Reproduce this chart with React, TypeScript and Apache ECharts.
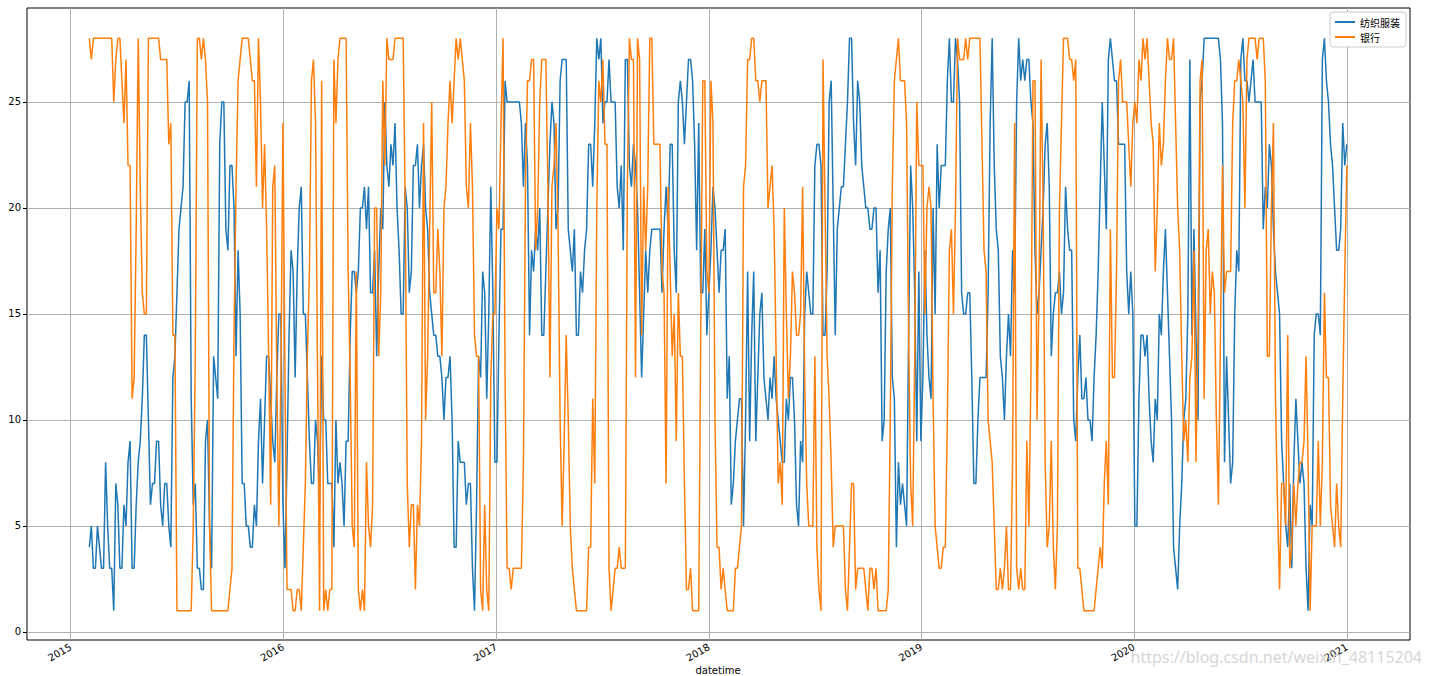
import React, { useEffect, useRef } from "react";
import * as echarts from "echarts";

// Samples: "A" arrays are Mondays (weekly from startDate), "B" arrays are the following Thursdays
const startDate = [2015, 1, 2];
const stepDays = 7;
const midOffsetDays = 3.5;
const yearTicks = [2015, 2016, 2017, 2018, 2019, 2020, 2021];
const yTicks = [0, 5, 10, 15, 20, 25];
const seriesNames = ["纺织服装", "银行"];
const xAxisTitle = "datetime";

// 纺织服装 (blue)
const textileA2015 = [4,3,5,3,8,3,1,6,3,5,9,3,8,11,14,6,7,9,5,7,4,13,19,21,25,11,7,3,2,10,3,12,23,
  25,18,22,13,15,7,5,4,5,11,10,13,9,12,15];
const textileB2015 = [5,3,4,3,5,3,7,3,6,8,3,6,9,14,10,7,9,6,7,5,12,16,20,25,26,6,3,2,9,5,13,11,
  25,19,22,20,18,7,5,4,6,9,7,13,11,8,15,6];
const textileA2016 = [3,14,17,17,21,15,9,7,9,13,10,7,4,7,7,9,14,17,
  17,20,19,16,18,17,19,22,23,24,18,15,20,17,22,20,23,19,15,14,13,10,12,10,4,8,8,7,3,6,12,16,15,16];
const textileB2016 = [8,18,12,20,15,12,7,10,6,10,7,7,10,8,5,9,17,
  16,20,21,21,16,13,20,25,21,22,20,15,21,16,22,23,22,20,16,14,13,12,12,13,4,9,8,6,7,1,13,17,11,21,8];
const textileA2017 = [8,19,26,25,25,25,24,24,14,17,18,14,17,23,24,20,27,27,18,19,14,16,
  19,23,24,27,24,25,25,25,20,18,27,21,22,16,15,16,19,19,19,19,19,23,16,26,
  23,27,26,18,16,19];
const textileB2017 = [14,19,25,25,25,25,21,22,18,19,20,14,20,25,19,26,27,19,17,14,17,18,
  23,21,28,28,25,27,25,21,22,27,22,23,20,12,18,18,19,19,16,21,23,18,25,
  25,25,27,23,24,16,14];
const textileA2018 = [16,21,18,18,19,13,7,10,11,10,9,17,12,16,11,12,13,
  10,8,11,12,10,5,8,17,15,22,23,14,17,26,14,20,21,25,28,22,25,21,20,
  19,20,18,10,19,12,4,6,6,14,20,9,9];
const textileB2018 = [18,20,16,18,11,6,9,11,5,17,14,9,15,12,10,11,
  11,9,8,10,12,6,9,15,16,15,23,22,14,25,20,19,21,23,28,24,26,22,20,
  19,20,16,9,17,20,11,8,7,5,22,16,17,12];
const textileA2019 = [18,12,20,23,22,22,28,25,27,16,15,
  16,7,10,12,12,24,22,18,12,13,13,16,28,27,27,25,18,16,20,24,13,16,17,
  16,19,18,9,14,11,10,9,14,21,22,27,27,26,23,23,15,15];
const textileB2019 = [14,11,15,20,22,26,25,28,25,15,
  16,12,7,12,12,16,28,19,13,10,15,18,25,26,26,27,24,15,18,23,21,15,16,15,
  21,18,10,12,11,12,10,12,17,25,19,28,26,23,23,17,17,5];
const textileA2020 = [5,14,13,11,8,10,
  14,19,13,4,2,7,11,27,19,10,26,28,28,28,28,24,13,7,15,17,28,26,26,
  25,25,19,20,22,17,15,7,4,3,11,7,7,1,5,15,14,28,25,22,18,19,22];
const textileB2020 = [11,14,14,9,11,
  15,17,16,10,3,5,10,15,14,14,25,28,28,28,28,27,8,10,8,18,27,26,25,
  27,25,25,21,23,19,16,9,5,7,8,9,8,3,6,14,15,27,26,23,20,18,24,23];

// 银行 (orange)
const bankA2015 = [28,28,28,28,28,28,25,28,26,27,22,12,28,16,15,28,28,28,27,27,24,14,1,1,1,1,13,28,28,25,1,1,1,
  1,1,3,21,27,28,28,26,21,25,23,13,21,12,12];
const bankB2015 = [27,28,28,28,28,28,27,28,24,22,11,19,21,15,28,28,28,27,27,23,14,1,1,1,1,5,28,27,27,5,1,1,
  1,1,2,14,26,28,28,27,26,28,20,19,6,22,5,24];
const bankA2016 = [12,2,1,2,1,7,17,27,12,26,2,2,27,27,28,28,12,4,
  2,2,8,4,20,13,26,28,27,28,28,28,7,6,2,5,24,13,25,16,17,20,24,24,28,28,26,20,21,13,2,6,1,15];
const bankB2016 = [2,2,1,2,4,13,26,24,1,1,1,2,24,28,28,17,5,
  17,1,1,5,6,20,16,22,27,27,28,28,20,4,6,6,9,10,19,16,19,13,21,26,26,27,27,21,24,14,13,1,2,12,15];
const bankA2017 = [20,24,12,3,3,3,3,21,26,27,20,27,27,12,22,19,5,14,5,2,1,1,
  1,4,7,26,27,23,1,3,4,3,21,27,12,27,21,21,28,23,23,16,21,13,9,13,
  7,2,1,1,14,26];
const bankB2017 = [19,28,3,2,3,3,8,26,27,18,25,27,21,21,24,10,9,10,3,1,1,
  1,4,11,20,25,23,3,2,3,3,3,28,27,28,14,18,28,23,23,17,7,17,15,16,
  13,2,3,1,1,26,17];
const bankA2018 = [16,24,4,2,2,1,1,3,5,22,27,28,26,26,26,21,19,
  7,6,15,13,16,14,21,7,5,13,2,27,13,8,5,5,5,1,7,2,3,3,1,
  3,3,1,1,2,21,27,26,26,14,5,25,22];
const bankB2018 = [26,10,4,3,1,1,3,4,21,27,28,26,25,26,20,22,
  13,8,20,11,17,14,15,12,5,5,4,1,20,11,4,5,5,2,4,7,3,3,2,
  3,2,1,1,1,10,26,28,26,24,7,13,22,22];
const bankA2019 = [15,21,11,4,3,4,18,15,28,27,28,
  28,28,28,23,17,9,5,2,2,5,2,24,2,2,9,12,26,16,20,4,9,2,20,
  28,28,27,27,3,1,1,1,2,4,7,6,12,17,27,25,23,24];
const bankB2019 = [20,20,5,3,4,10,19,20,27,27,
  27,28,28,28,18,10,8,2,3,3,2,8,3,3,2,5,26,10,27,8,5,4,5,24,
  28,27,26,3,2,1,1,1,3,3,9,19,12,26,25,25,21,25];
const bankA2020 = [24,26,27,26,23,20,
  22,26,27,28,20,13,10,12,18,14,27,18,15,16,6,22,17,17,26,27,25,27,28,
  28,28,28,13,20,11,2,7,14,4,5,8,9,8,5,5,5,16,12,5,7,4,17];
const bankB2020 = [27,28,28,24,17,
  24,23,28,27,24,18,9,8,13,8,26,11,19,17,10,14,16,17,24,26,26,20,28,
  28,27,28,26,13,24,6,7,5,3,7,7,8,13,1,5,9,8,12,6,4,5,11,22];

const textileA = [...textileA2015, ...textileA2016, ...textileA2017, ...textileA2018, ...textileA2019, ...textileA2020];
const textileB = [...textileB2015, ...textileB2016, ...textileB2017, ...textileB2018, ...textileB2019, ...textileB2020];
const bankA = [...bankA2015, ...bankA2016, ...bankA2017, ...bankA2018, ...bankA2019, ...bankA2020];
const bankB = [...bankB2015, ...bankB2016, ...bankB2017, ...bankB2018, ...bankB2019, ...bankB2020];

export default function App() {
  const ref = useRef<HTMLDivElement>(null);
  useEffect(() => {
    if (!ref.current) return;
    const chart = echarts.init(ref.current, null, { renderer: "svg" });
    const day = 86400000;
    const t0 = Date.UTC(startDate[0], startDate[1], startDate[2]);
    const merge = (a: number[], b: number[]) => {
      const out: number[][] = [];
      const n = Math.max(a.length, b.length);
      for (let i = 0; i < n; i++) {
        const base = t0 + i * stepDays * day;
        if (i < a.length) out.push([base, a[i]]);
        if (i < b.length) out.push([base + midOffsetDays * day, b[i]]);
      }
      return out;
    };
    const yearTs = yearTicks.map((y) => Date.UTC(y, 0, 1));
    const gridColor = "#b0b0b0";
    const font = "DejaVu Sans";

    chart.setOption({
      animation: false,
      backgroundColor: "#ffffff",
      grid: {
        left: 27,
        right: 20,
        top: 8,
        bottom: 36,
        show: true,
        borderColor: "#000",
        borderWidth: 1,
        backgroundColor: "transparent",
        outerBoundsMode: "none",
        containLabel: false,
      },
      legend: {
        data: seriesNames,
        orient: "vertical",
        right: 24,
        top: 12,
        itemWidth: 20,
        itemHeight: 2,
        itemGap: 5,
        icon: "rect",
        padding: [5, 6, 5, 5],
        backgroundColor: "#fff",
        borderColor: "#cccccc",
        borderWidth: 1,
        borderRadius: 3,
        textStyle: { fontSize: 10, color: "#000", fontFamily: "Noto Sans CJK SC" },
      },
      xAxis: {
        type: "value",
        min: Date.UTC(2014, 9, 18),
        max: Date.UTC(2021, 3, 19),
        axisLine: { show: false },
        axisTick: {
          show: true,
          length: 4,
          lineStyle: { color: "#000", width: 1 },
          customValues: yearTs,
        },
        axisLabel: {
          customValues: yearTs,
          formatter: (v: number) => String(new Date(v).getUTCFullYear()),
          rotate: 30,
          fontSize: 10,
          color: "#000",
          fontFamily: font,
          margin: 6,
          hideOverlap: false,
        },
        splitLine: { show: false },
      },
      yAxis: {
        type: "value",
        min: -0.38,
        max: 29.43,
        axisLine: { show: false },
        axisTick: {
          show: true,
          length: 4,
          lineStyle: { color: "#000", width: 1 },
          customValues: yTicks,
        },
        axisLabel: {
          customValues: yTicks,
          fontSize: 10,
          color: "#000",
          fontFamily: font,
          margin: 6,
        },
        splitLine: { show: false },
      },
      graphic: [
        {
          type: "text",
          x: 718,
          y: 670,
          style: {
            text: xAxisTitle,
            fontSize: 10,
            fill: "#000",
            fontFamily: font,
            textAlign: "center",
            textVerticalAlign: "middle",
          },
          z: 50,
        },
        {
          type: "text",
          right: 8,
          bottom: 11,
          style: {
            text: "https://blog.csdn.net/weixin_48115204",
            fontSize: 16,
            fill: "#d6d6d6",
            fontFamily: "Noto Sans",
          },
          z: 100,
        },
      ],
      series: [
        {
          name: "grid",
          type: "line",
          data: [],
          silent: true,
          z: 1,
          markLine: {
            silent: true,
            symbol: "none",
            z: 1,
            label: { show: false },
            lineStyle: { color: gridColor, width: 1, type: "solid" },
            data: [
              ...yTicks.map((v) => ({ yAxis: v })),
              ...yearTs.map((t) => ({ xAxis: t })),
            ],
          },
        },
        {
          name: seriesNames[0],
          type: "line",
          data: merge(textileA, textileB),
          showSymbol: false,
          symbol: "none",
          z: 3,
          lineStyle: { color: "#1f77b4", width: 1.5 },
          itemStyle: { color: "#1f77b4" },
        },
        {
          name: seriesNames[1],
          type: "line",
          data: merge(bankA, bankB),
          showSymbol: false,
          symbol: "none",
          z: 4,
          lineStyle: { color: "#ff7f0e", width: 1.5 },
          itemStyle: { color: "#ff7f0e" },
        },
      ],
    });
    return () => chart.dispose();
  }, []);
  return (
    <div
      ref={ref}
      style={{ position: "fixed", left: 0, top: 0, width: 1430, height: 676 }}
    />
  );
}
